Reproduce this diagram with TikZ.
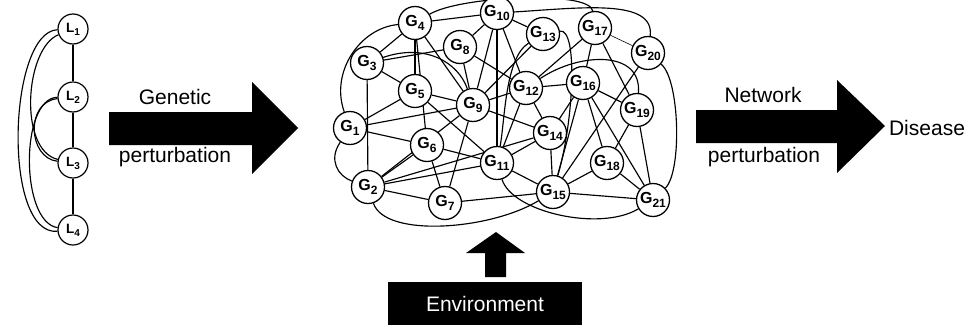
\documentclass[tikz,border=0pt]{standalone}
\usepackage{fontspec}
\setmainfont{Liberation Sans}
\usetikzlibrary{backgrounds}
\newcommand{\gsub}[2]{#1\raisebox{-0.4ex}{\fontsize{12}{12}\selectfont #2}}
\newcommand{\lsub}[2]{#1\raisebox{-0.4ex}{\fontsize{10}{10}\selectfont #2}}
\begin{document}
\begin{tikzpicture}[x=1pt,y=-1pt,
 gn/.style={circle,draw,line width=1.3pt,fill=white,minimum size=33pt,inner sep=0pt,font=\fontsize{16}{16}\selectfont\bfseries},
 ln/.style={circle,draw,line width=1.2pt,fill=white,minimum size=30pt,inner sep=0pt,font=\fontsize{13.5}{13.5}\selectfont\bfseries},
 ed/.style={line width=1.15pt},
 thin ed/.style={line width=0.6pt},
 lbl/.style={font=\fontsize{21}{21}\selectfont,inner sep=0pt},
 bigarrow/.style={fill=black,draw=none}]
\useasboundingbox (0,0) rectangle (977,327);

% ---------- L graph ----------
\node[ln] (L1) at (73,29) {\lsub{L}{1}};
\node[ln] (L2) at (73,97) {\lsub{L}{2}};
\node[ln] (L3) at (73,163) {\lsub{L}{3}};
\node[ln] (L4) at (73,230) {\lsub{L}{4}};

% ---------- G network ----------
\node[gn] (G1) at (350,128) {\gsub{G}{1}};
\node[gn] (G2) at (368,187) {\gsub{G}{2}};
\node[gn] (G3) at (367,63) {\gsub{G}{3}};
\node[gn] (G4) at (415,23) {\gsub{G}{4}};
\node[gn] (G5) at (415,91) {\gsub{G}{5}};
\node[gn] (G6) at (427,145) {\gsub{G}{6}};
\node[gn] (G7) at (445,203) {\gsub{G}{7}};
\node[gn] (G8) at (460,47) {\gsub{G}{8}};
\node[gn] (G9) at (473,105) {\gsub{G}{9}};
\node[gn] (G10) at (497,13) {\gsub{G}{10}};
\node[gn] (G11) at (497,163) {\gsub{G}{11}};
\node[gn] (G12) at (526,88) {\gsub{G}{12}};
\node[gn] (G13) at (543,34) {\gsub{G}{13}};
\node[gn] (G14) at (550,133) {\gsub{G}{14}};
\node[gn] (G15) at (553,192) {\gsub{G}{15}};
\node[gn] (G16) at (583,83) {\gsub{G}{16}};
\node[gn] (G17) at (595,28) {\gsub{G}{17}};
\node[gn] (G18) at (607,163) {\gsub{G}{18}};
\node[gn] (G19) at (637,110) {\gsub{G}{19}};
\node[gn] (G20) at (648,53) {\gsub{G}{20}};
\node[gn] (G21) at (653,200) {\gsub{G}{21}};

\begin{pgfonlayer}{background}
% L edges
\draw[ed] (L1) -- (L2);
\draw[ed] (L2) -- (L3);
\draw[ed] (L3) -- (L4);
\draw[ed] (L1) .. controls (8,32) and (2,236) .. (L4);
\draw[ed] (L1) .. controls (25,48) and (18,150) .. (L3);
\draw[ed] (L2) .. controls (20,98) and (20,222) .. (L4);
\draw[ed] (L2) .. controls (25,102) and (28,158) .. (L3);

% G straight edges
\foreach \a/\b in {G4/G10,G4/G3,G4/G5,G4/G9,G4/G6,G3/G8,G3/G5,G3/G2,
  G1/G5,G1/G9,G1/G6,G5/G9,G5/G11,G8/G10,G8/G9,G8/G12,G10/G9,G10/G12,
  G10/G13,G10/G11,G13/G9,G17/G12,G12/G16,G17/G16,G17/G19,G20/G15,
  G16/G19,G16/G15,G16/G18,G16/G21,G19/G18,G19/G21,G18/G15,G18/G21,
  G15/G21,G14/G15,G9/G14,G12/G11,G14/G11,G11/G15,G7/G15,G2/G11,
  G2/G9,G2/G6,G2/G7,G2/G14,G6/G11,G6/G7,G7/G9,G9/G12,G14/G16,G12/G14}
  \draw[ed] (\a) -- (\b);
\draw[thin ed] (G17) -- (G20);

% G curved edges
\draw[ed] (G4) .. controls (360,28) and (330,72) .. (G1);
\draw[ed] (G1) .. controls (328,160) and (338,176) .. (G2);
\draw[ed] (G2) .. controls (385,238) and (490,230) .. (G15);
\draw[ed] (G11) .. controls (512,212) and (600,232) .. (G21);
\draw[ed] (G20) .. controls (680,80) and (682,172) .. (G21);
\draw[ed] (G10) .. controls (580,8) and (655,-2) .. (G20);
\draw[ed] (G4) .. controls (460,-4) and (590,-10) .. (G17);
\draw[ed] (G3) .. controls (425,43) and (458,62) .. (G9);
\draw[ed] (G13) .. controls (578,28) and (574,120) .. (G15);
\draw[ed] (G12) .. controls (580,52) and (642,50) .. (G19);
\draw[ed] (G13) .. controls (505,58) and (505,120) .. (G11);
\end{pgfonlayer}

% ---------- Genetic perturbation arrow ----------
\fill[bigarrow] (109,112) -- (252,112) -- (252,82) -- (298,128) -- (252,174) -- (252,145) -- (109,145) -- cycle;
\node[lbl] (gen) at (175,97) {Genetic};
\node[lbl] (gpert) at (175,157) {perturbation};

% ---------- Network perturbation arrow ----------
\fill[bigarrow] (696,110) -- (837,110) -- (837,80) -- (885,126) -- (837,173) -- (837,143) -- (696,143) -- cycle;
\node[lbl] (net) at (763,95) {Network};
\node[lbl] (npert) at (764,157) {perturbation};
\node[lbl] (dis) at (927,128) {Disease};

% ---------- Environment ----------
\node[fill=black,text=white,minimum width=194pt,minimum height=43pt,inner sep=0pt,
      font=\fontsize{21}{21}\selectfont] (env) at (485,303.5) {Environment};
\fill[bigarrow] (485,277) -- (485,253) -- (466,253) -- (496,232) -- (525,253) -- (506,253) -- (506,277) -- cycle;
\end{tikzpicture}
\end{document}
